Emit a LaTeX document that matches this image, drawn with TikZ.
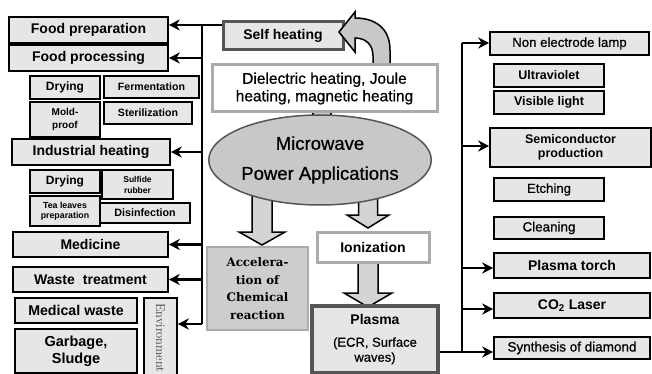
\documentclass[tikz,border=0pt]{standalone}
\usepackage{fontspec}
\setsansfont{Liberation Sans}
\newfontfamily\medsf{Liberation Sans}[FakeBold=0.7]
\newfontfamily\accserif{DejaVu Serif}
\usetikzlibrary{arrows.meta,shapes.geometric}
\definecolor{boxg}{HTML}{E6E6E6}
\definecolor{ellg}{HTML}{C8C8C8}
\definecolor{lineg}{HTML}{ABABAB}
\definecolor{darkg}{HTML}{555555}
\definecolor{envg}{HTML}{3A3A3A}
\definecolor{accg}{HTML}{CDCDCD}
\definecolor{arrg}{HTML}{D4D4D4}
\newcommand{\bsf}[2]{\sffamily\bfseries\fontsize{#1}{#2}\selectfont}
\newcommand{\rsf}[2]{\medsf\fontsize{#1}{#2}\selectfont}
\begin{document}
\begin{tikzpicture}[x=1pt,y=-1pt,
  box/.style={draw=black, line width=1.6pt, fill=boxg, inner sep=0pt, align=center},
  bus/.style={line width=2.8pt, line join=miter},
  arr/.style={line width=2.4pt, -{Stealth[length=11pt,width=11pt,inset=3.5pt]}},
  blockarr/.style={fill=arrg, draw=black, line width=1.5pt, line join=miter},
]
\useasboundingbox (0,0) rectangle (652,374);

% ---------- left column ----------
\node[box, minimum width=159, minimum height=26, font=\bsf{14}{16}] (foodprep) at (88.5,30) {Food preparation};
\node[box, minimum width=159, minimum height=26, font=\bsf{14}{16}] (foodproc) at (88.5,58) {Food processing};
\node[box, minimum width=70, minimum height=23, font=\bsf{12}{14}] (dry1) at (65,87.5) {Drying};
\node[box, minimum width=95, minimum height=22, font=\bsf{10.6}{12}] (ferm) at (151.5,87) {Fermentation};
\node[box, minimum width=70, minimum height=35, font=\bsf{10}{13.5}] (mold) at (65,119.5) {Mold-\\proof};
\node[box, minimum width=88, minimum height=22, font=\bsf{10.6}{12}] (steril) at (148,113) {Sterilization};
\node[box, minimum width=158, minimum height=26, font=\bsf{14}{16}] (indust) at (91,152) {Industrial heating};
\node[box, minimum width=70, minimum height=23, font=\bsf{12}{14}] (dry2) at (65,181.5) {Drying};
\node[box, minimum width=71, minimum height=29, font=\bsf{8.5}{11}] (sulf) at (137.5,184.5) {Sulfide\\rubber};
\node[box, minimum width=70, minimum height=30, font=\bsf{8.8}{10.5}] (tea) at (65,211) {Tea leaves\\preparation};
\node[box, minimum width=90, minimum height=20, font=\bsf{10.7}{12}] (disinf) at (145,213) {Disinfection};
\node[box, minimum width=155, minimum height=25, font=\bsf{14}{16}] (medicine) at (90.5,244.5) {Medicine};
\node[box, minimum width=155, minimum height=25, font=\bsf{14}{16}] (waste) at (90.5,279.5) {Waste\hspace{0.3em} treatment};
\node[box, minimum width=122, minimum height=25, font=\bsf{14.2}{16}] (medwaste) at (76,310.5) {Medical waste};
\node[box, minimum width=122, minimum height=44, font=\bsf{14.5}{17}] (garbage) at (76,351) {Garbage,\\Sludge};
\node[box, minimum width=33, minimum height=80, font=\rmfamily\fontsize{12.5}{12.5}\selectfont, text=envg] (env) at (160.5,338) {\rotatebox{-90}{Environment}};

% ---------- left bus ----------
\coordinate (ltop) at (202,25);
\coordinate (lbot) at (202,324);

% ---------- centre ----------
\node[draw=darkg, line width=3pt, fill=boxg, minimum width=120, minimum height=28, inner sep=0pt, font=\bsf{14}{16}] (selfh) at (283,36) {Self heating};

\draw[bus] (selfh.west |- ltop) -- (ltop) -- (lbot);
\draw[arr] (ltop) -- (foodprep.east |- ltop);
\draw[arr] (ltop |- foodproc) -- (foodproc.east);
\draw[arr] (ltop |- indust) -- (indust.east);
\draw[arr] (ltop |- medicine) -- (medicine.east);
\draw[arr] (ltop |- waste) -- (waste.east);
\draw[arr] (lbot) -- (env.east |- lbot);

% curved arrow to self heating
\filldraw[fill=ellg, draw=black, line width=1.5pt, line join=miter]
  (390,72) -- (390,50) .. controls (390,29) and (376,18) .. (355,18)
  -- (355,12) -- (339,32) -- (355,52) -- (355,38)
  .. controls (366,38) and (373,45) .. (373,56) -- (373,72) -- cycle;

% connector between dielectric box and ellipse
\filldraw[fill=ellg, draw=black, line width=1.2pt] (313,108) rectangle (331,126);

\node[draw=lineg, line width=3pt, fill=white, minimum width=225, minimum height=47, inner sep=0pt, align=center, font=\rsf{15.5}{17.5}] (diel) at (324.5,88.5) {Dielectric heating, Joule\\heating, magnetic heating};

% block arrows
\filldraw[blockarr] (252,185) -- (252,232) -- (239,232) -- (262,245) -- (285,232) -- (272,232) -- (272,185) -- cycle;
\filldraw[blockarr] (358.5,185) -- (358.5,215) -- (347,215) -- (368,228) -- (389,215) -- (377.5,215) -- (377.5,185) -- cycle;

\node[ellipse, draw=darkg, line width=1.5pt, fill=ellg, minimum width=168, minimum height=90, inner sep=0pt, align=center, font=\rsf{18.5}{30}] (mw) at (320,160) {Microwave\\Power Applications};

\node[draw=lineg, line width=2.5pt, fill=accg, minimum width=101, minimum height=83, inner sep=0pt, align=center, font=\accserif\bfseries\fontsize{11.8}{17.5}\selectfont] (accel) at (257.5,288.5) {Accelera-\\tion of\\Chemical\\reaction};

\filldraw[blockarr] (358,258) -- (358,293) -- (344,293) -- (368,307) -- (392,293) -- (378,293) -- (378,258) -- cycle;

\node[draw=lineg, line width=3pt, fill=white, minimum width=112, minimum height=30, inner sep=0pt, font=\bsf{14}{16}] (ioniz) at (373,247) {Ionization};

\node[draw=darkg, line width=3.5pt, fill=boxg, minimum width=126, minimum height=67, inner sep=0pt, align=center, font=\rsf{13}{15}] (plasma) at (375,339.5) {{\sffamily\bfseries\fontsize{14}{15}\selectfont Plasma}\\[7pt](ECR, Surface\\waves)};

% ---------- right column ----------
\node[box, minimum width=159, minimum height=23, font=\rsf{13.2}{15}] (nel) at (569.5,43.5) {Non electrode lamp};
\node[box, minimum width=110, minimum height=23, font=\bsf{12.5}{14}] (uv) at (549,75.5) {Ultraviolet};
\node[box, minimum width=110, minimum height=23, font=\bsf{12.5}{14}] (vis) at (549,102.5) {Visible light};
\node[box, minimum width=161, minimum height=39, font=\bsf{12.5}{14.5}] (semi) at (570.5,147.5) {Semiconductor\\production};
\node[box, minimum width=110, minimum height=23, font=\rsf{13.2}{15}] (etch) at (549,189.5) {Etching};
\node[box, minimum width=110, minimum height=22, font=\rsf{13.4}{15}] (clean) at (549,228) {Cleaning};
\node[box, minimum width=156, minimum height=25, font=\bsf{14}{16}] (torch) at (572,265.5) {Plasma torch};
\node[box, minimum width=156, minimum height=25, font=\bsf{14}{16}] (co2) at (572,305.5) {CO\textsubscript{2} Laser};
\node[box, minimum width=156, minimum height=22, font=\rsf{13.5}{15}] (synth) at (572,348) {Synthesis of diamond};

% ---------- right bus ----------
\coordinate (rtop) at (462,43);
\coordinate (rbot) at (462,352);
\coordinate (r2) at (462,146);
\coordinate (r3) at (462,268);
\coordinate (r4) at (462,309);
\draw[bus] (plasma.east |- rbot) -- (rbot) -- (rtop);
\draw[arr] (rtop) -- (nel.west |- rtop);
\draw[arr] (r2) -- (semi.west |- r2);
\draw[arr] (r3) -- (torch.west |- r3);
\draw[arr] (r4) -- (co2.west |- r4);
\draw[arr] (rbot) -- (synth.west |- rbot);
\end{tikzpicture}
\end{document}
